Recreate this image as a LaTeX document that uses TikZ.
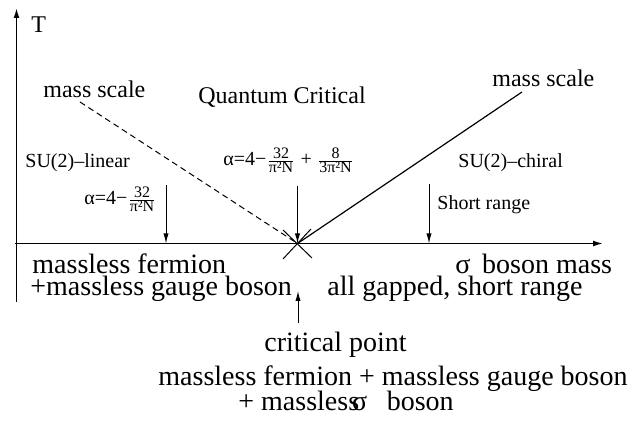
\documentclass[tikz,border=0pt]{standalone}
\usepackage{fontspec}
\setmainfont{Liberation Serif}
\usetikzlibrary{arrows.meta}

% small upright fraction, as in the coupling labels
\newcommand{\smallfr}[2]{$\frac{\mbox{\fontsize{8}{9}\selectfont #1}}{\mbox{\fontsize{8}{9}\selectfont #2}}$}

\tikzset{
  bigtxt/.style={font=\fontsize{14}{16}\selectfont, inner sep=0pt, anchor=base west},
  midtxt/.style={font=\fontsize{12}{14}\selectfont, inner sep=0pt, anchor=base west},
  smalltxt/.style={font=\fontsize{10}{12}\selectfont, inner sep=0pt, anchor=base west},
  formula/.style={font=\fontsize{10}{12}\selectfont, inner sep=0pt, anchor=base west},
  axis/.style={line width=0.8pt, -{Latex[length=5pt,width=3pt]}},
  pointer/.style={line width=0.5pt, -{Latex[length=5pt,width=2.6pt]}}
}

\begin{document}
\begin{tikzpicture}[x=0.5pt, y=-0.5pt]
  \useasboundingbox (0,0) rectangle (638,421);
    % axes
    \coordinate (ybot) at (16.5,302);
    \coordinate (ytop) at (16.5,8);
    \coordinate (xleft) at (15,243.5);
    \coordinate (xright) at (603,243.5);
    \coordinate (cp) at (297.5,243.5);
    \draw[axis] (ybot) -- (ytop);
    \draw[axis] (xleft) -- (xright);
    \node[midtxt] (T) at (31,33) {T};
    % crossover lines
    \coordinate (msl) at (80,102);
    \coordinate (msr) at (522,92);
    \draw[line width=0.5pt, dashed, dash pattern=on 3pt off 2pt] (msl) -- (cp);
    \draw[line width=0.6pt] (msr) -- (cp);
    % the cross at the critical point
    \draw[line width=0.5pt] (283,230) -- (312,258);
    \draw[line width=0.5pt] (311,229) -- (283,259);
    % region labels
    \node[midtxt] (massL) at (43,98) {mass scale};
    \node[midtxt] (qc) at (198,104) {Quantum Critical};
    \node[midtxt] (massR) at (492,87) {mass scale};
    \node[smalltxt] (lin) at (25,168) {SU(2)--linear};
    \node[smalltxt] (chi) at (458,168) {SU(2)--chiral};
    \node[smalltxt] (sr) at (437,210) {Short range};
    % couplings
    \node[formula] (alin) at (84,205) {α=4−\smallfr{32}{π²N}};
    \node[formula] (acrit) at (223,166) {α=4−\smallfr{32}{π²N} + \smallfr{8}{3π²N}};
    \coordinate (linT) at (166,185);
    \coordinate (linB) at (166,243.5);
    \coordinate (critT) at (297.5,186);
    \coordinate (srT) at (429,184);
    \coordinate (srB) at (429,243.5);
    \draw[pointer] (linT) -- (linB);
    \draw[pointer] (critT) -- (cp);
    \draw[pointer] (srT) -- (srB);
    % below the axis
    \node[bigtxt] (mf) at (32,274) {massless fermion};
    \node[bigtxt] (mg) at (30,296) {+massless gauge boson};
    \node[bigtxt] (sig) at (455,274) {σ\, boson mass};
    \node[bigtxt] (gap) at (327,296) {all gapped, short range};
    \coordinate (cpB) at (298,323);
    \coordinate (cpT) at (298,291);
    \draw[pointer] (cpB) -- (cpT);
    \node[bigtxt] (cpl) at (264,352) {critical point};
    \node[bigtxt] (all1) at (158,386) {massless fermion + massless gauge boson};
    \node[bigtxt] (all2) at (238,411) {+ massless\kern-3.5pt σ\hspace{0.7em}boson};
  \end{tikzpicture}
\end{document}
